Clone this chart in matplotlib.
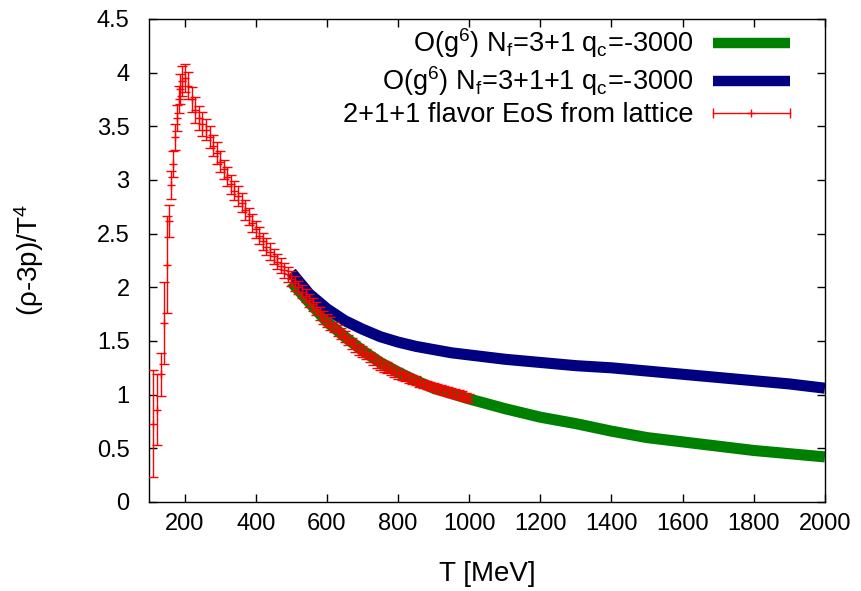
#!/usr/bin/env python3
import matplotlib
matplotlib.use('Agg')
import matplotlib.pyplot as plt
import numpy as np
from matplotlib.lines import Line2D
from matplotlib.legend_handler import HandlerLine2D

plt.rcParams['font.family'] = ['Liberation Sans', 'DejaVu Sans']
plt.rcParams['mathtext.fontset'] = 'custom'
plt.rcParams['mathtext.rm'] = 'Liberation Sans'
plt.rcParams['mathtext.it'] = 'Liberation Sans:italic'

# perturbative curves, O(g^6)
T_pert = [500, 550, 600, 650, 700, 750, 800, 850, 900, 950, 1000,
          1100, 1200, 1300, 1400, 1500, 1600, 1700, 1800, 1900, 2000]
nf31 = [2.05, 1.86, 1.68, 1.54, 1.41, 1.30, 1.21, 1.13, 1.06, 1.01, 0.96,
        0.87, 0.79, 0.73, 0.66, 0.60, 0.56, 0.52, 0.48, 0.45, 0.42]
nf311 = [2.14, 1.94, 1.80, 1.69, 1.61, 1.54, 1.49, 1.45, 1.42, 1.39, 1.37,
         1.33, 1.30, 1.27, 1.25, 1.22, 1.19, 1.16, 1.13, 1.10, 1.06]

# lattice 2+1+1 flavor trace anomaly
T_lat = [112, 123, 133, 143, 150, 157, 163, 168, 173, 178, 183, 188, 193,
         200, 210, 220, 230, 240, 250, 260, 270, 280, 290,
         300, 310, 320, 330, 340, 350, 360, 370, 380, 390,
         400, 410, 420, 430, 440, 450, 460, 470, 480, 490,
         500, 510, 520, 530, 540, 550, 560, 570, 580, 590,
         600, 610, 620, 630, 640, 650, 660, 670, 680, 690,
         700, 710, 720, 730, 740, 750, 760, 770, 780, 790,
         800, 810, 820, 830, 840, 850, 860, 870, 880, 890,
         900, 910, 920, 930, 940, 950, 960, 970, 980, 990, 1000]
I_lat = [0.73, 0.86, 1.19, 1.67, 2.21, 2.62, 2.95, 3.15, 3.40, 3.58, 3.75, 3.85, 3.92,
         3.95, 3.88, 3.75, 3.65, 3.58, 3.52, 3.47, 3.40, 3.32, 3.25,
         3.17, 3.10, 3.03, 2.96, 2.90, 2.85, 2.79, 2.72, 2.66, 2.60,
         2.54, 2.48, 2.43, 2.38, 2.33, 2.29, 2.24, 2.20, 2.16, 2.12,
         2.08, 2.04, 2.00, 1.96, 1.92, 1.88, 1.84, 1.80, 1.76, 1.72,
         1.69, 1.66, 1.63, 1.60, 1.57, 1.54, 1.51, 1.48, 1.45, 1.42,
         1.40, 1.38, 1.35, 1.33, 1.30, 1.28, 1.26, 1.25, 1.23, 1.21,
         1.20, 1.18, 1.17, 1.15, 1.14, 1.13, 1.11, 1.10, 1.09, 1.08,
         1.07, 1.06, 1.05, 1.04, 1.03, 1.02, 1.01, 1.00, 0.99, 0.98, 0.97]
err_lat = [0.50, 0.33, 0.20, 0.38, 0.45, 0.15, 0.13, 0.12, 0.12, 0.12, 0.13, 0.14, 0.14,
           0.13, 0.13, 0.12, 0.12, 0.11, 0.11, 0.10, 0.10, 0.10, 0.10,
           0.10, 0.09, 0.09, 0.09, 0.09, 0.09, 0.09, 0.09, 0.08, 0.08,
           0.08, 0.08, 0.08, 0.08, 0.08, 0.07, 0.07, 0.07, 0.07, 0.07,
           0.07, 0.07, 0.06, 0.06, 0.06, 0.06, 0.06, 0.06, 0.06, 0.06,
           0.06, 0.06, 0.05, 0.05, 0.05, 0.05, 0.05, 0.05, 0.05, 0.05,
           0.05, 0.05, 0.05, 0.05, 0.05, 0.05, 0.05, 0.05, 0.05, 0.05,
           0.05, 0.04, 0.04, 0.04, 0.04, 0.04, 0.04, 0.04, 0.04, 0.04,
           0.04, 0.04, 0.04, 0.04, 0.04, 0.04, 0.04, 0.04, 0.04, 0.04, 0.04]

label31 = r'O(g$^{6}$) N$_{\mathrm{f}}$=3+1 q$_{\mathrm{c}}$=-3000'
label311 = r'O(g$^{6}$) N$_{\mathrm{f}}$=3+1+1 q$_{\mathrm{c}}$=-3000'
label_lat = '2+1+1 flavor EoS from lattice'

fig = plt.figure(figsize=(8.62, 5.91), dpi=100)
ax = fig.add_axes([0.1729, 0.1506, 0.957 - 0.1729, 0.9679 - 0.1506])

ax.plot(T_pert, nf31, color='#008000', lw=8, solid_capstyle='butt', zorder=2)
ax.plot(T_pert, nf311, color='#000080', lw=8, solid_capstyle='butt', zorder=3)
ax.errorbar(T_lat, I_lat, yerr=err_lat, fmt='+', color='red', ms=6, mew=1,
            elinewidth=1, capsize=3.5, capthick=1, zorder=4)

ax.set_xlim(100, 2000)
ax.set_ylim(0, 4.5)
ax.set_xticks(np.arange(200, 2001, 200))
yt = np.arange(0, 4.51, 0.5)
ax.set_yticks(yt)
ax.set_yticklabels([f'{v:g}' for v in yt])
ax.tick_params(direction='in', top=True, right=True, length=6, width=1,
               labelsize=17)
ax.tick_params(axis='x', pad=8)
ax.tick_params(axis='y', pad=14)
for s in ax.spines.values():
    s.set_linewidth(1)

ax.set_xlabel('T [MeV]', fontsize=20)
ax.set_ylabel(r'(ρ-3p)/T$^{4}$', fontsize=20)
ax.xaxis.set_label_coords(0.5, -0.122)
ax.yaxis.set_label_coords(-0.152, 0.5)

# legend, gnuplot style (text right-aligned, sample on the right)
h31 = Line2D([], [], color='#008000', lw=7.5, solid_capstyle='butt')
h311 = Line2D([], [], color='#000080', lw=7.5, solid_capstyle='butt')
cap_line = Line2D([], [], color='red', lw=1, marker='|', ms=7, mew=1)
plus_line = Line2D([], [], color='red', lw=0, marker='+', ms=6, mew=1)
ax.legend([h31, h311, (cap_line, plus_line)], [label31, label311, label_lat],
          handler_map={cap_line: HandlerLine2D(numpoints=2, marker_pad=0),
                       plus_line: HandlerLine2D(numpoints=1)},
          loc='upper right', bbox_to_anchor=(0.948, 0.984), borderaxespad=0,
          borderpad=0, frameon=False, markerfirst=False, fontsize=19.5,
          handlelength=2.85, handletextpad=0.7, labelspacing=0.15)

plt.savefig('out.png', dpi=100)
